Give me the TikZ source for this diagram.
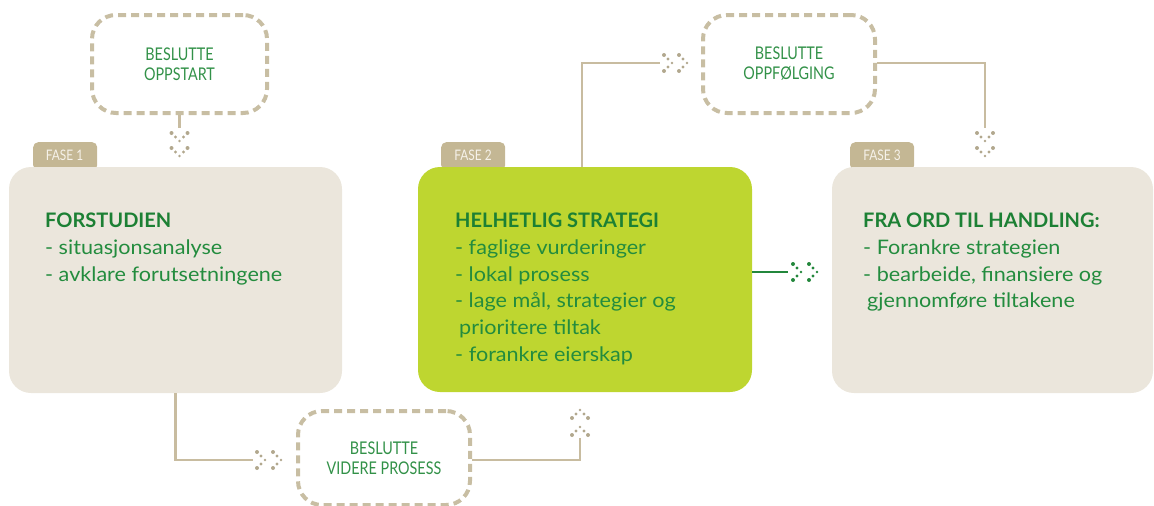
\documentclass[tikz,border=0pt]{standalone}
\usepackage{fontspec}
\setmainfont{Lato}
\newfontfamily\narrowfont[FakeStretch=0.82]{Lato}
\newfontfamily\bodyfont[FakeStretch=1.08]{Lato}
\newfontfamily\titlefont{Lato}
\definecolor{beige}{RGB}{235,230,220}
\definecolor{tabtan}{RGB}{196,183,148}
\definecolor{dashtan}{RGB}{200,190,163}
\definecolor{conntan}{RGB}{200,188,160}
\definecolor{lime}{RGB}{190,214,48}
\definecolor{txtgreen}{RGB}{35,140,62}
\definecolor{titlegreen}{RGB}{28,128,52}
\definecolor{dbgreen}{RGB}{50,145,72}
\definecolor{tabtxt}{RGB}{246,242,234}
\definecolor{dottan}{RGB}{178,168,142}
\definecolor{dotgreen}{RGB}{35,135,60}
\tikzset{
  mainbox/.style={draw=none, rounded corners=22pt, inner sep=0pt},
  tabbox/.style={fill=tabtan, rounded corners=5pt, inner sep=0pt, minimum width=64pt, minimum height=28pt},
  tablabel/.style={text=tabtxt, inner sep=0pt, font=\narrowfont\fontsize{14.5}{16}\selectfont},
  dashbox/.style={draw=dashtan, line width=4pt, dash pattern=on 8pt off 5pt, rounded corners=24pt, inner sep=0pt, align=center, text=dbgreen, font=\narrowfont\fontsize{17.5}{20}\selectfont},
  bodytext/.style={anchor=north west, inner sep=0pt, align=left, text=txtgreen, font=\bodyfont\fontsize{20}{26.7}\selectfont},
  conn/.style={draw=conntan, line width=2.6pt},
  gconn/.style={draw=dotgreen, line width=2.8pt},
  chev/.pic={
    \fill (-4,-8) circle (2.0pt);
    \fill (0,-4) circle (1.7pt);
    \fill (4,0) circle (1.3pt);
    \fill (0,4) circle (1.7pt);
    \fill (-4,8) circle (2.0pt);
  }
}
\begin{document}
\begin{tikzpicture}[x=1pt,y=-1pt]
\useasboundingbox (0,0) rectangle (1154,506);
% tabs
\node[tabbox, anchor=north west] (t1) at (33,142) {};
\node[tabbox, anchor=north west] (t2) at (441,142) {};
\node[tabbox, anchor=north west] (t3) at (850,142) {};
\node[tablabel] (t1l) at (64.5,155) {FASE 1};
\node[tablabel] (t2l) at (473,155) {FASE 2};
\node[tablabel] (t3l) at (882,155) {FASE 3};
% main boxes
\node[mainbox, fill=beige, minimum width=333pt, minimum height=226pt] (f1) at (175.5,280) {};
\node[mainbox, fill=lime, minimum width=334pt, minimum height=225pt] (f2) at (585,279.5) {};
\node[mainbox, fill=beige, minimum width=321pt, minimum height=226pt] (f3) at (992.5,280) {};
% texts
\node[bodytext] (f1t) at (45,213) {{\titlefont\bfseries\color{titlegreen}FORSTUDIEN}\\- situasjonsanalyse\\- avklare forutsetningene};
\node[bodytext] (f2t) at (455,213) {{\titlefont\bfseries\color{titlegreen}HELHETLIG STRATEGI}\\- faglige vurderinger\\- lokal prosess\\- lage mål, strategier og\\\hspace*{4pt}prioritere tiltak\\- forankre eierskap};
\node[bodytext] (f3t) at (863,213) {{\titlefont\bfseries\color{titlegreen}FRA ORD TIL HANDLING:}\\- Forankre strategien\\- bearbeide, finansiere og\\\hspace*{4pt}gjennomføre tiltakene};
% dashed decision boxes
\node[dashbox, minimum width=175pt, minimum height=98pt] (o1) at (179.5,64) {BESLUTTE\\OPPSTART};
\node[dashbox, minimum width=172pt, minimum height=98pt] (o2) at (789,64) {BESLUTTE\\OPPFØLGING};
\node[dashbox, minimum width=172pt, minimum height=94pt] (o3) at (384,458) {BESLUTTE\\VIDERE PROSESS};
% connector end points
\coordinate (e1) at (179.5,128);
\coordinate (e2) at (660,63);
\coordinate (e3) at (985,128);
\coordinate (e4) at (253,460);
\coordinate (e5) at (580,438);
\coordinate (e6) at (788,272);
% connectors
\draw[conn] (o1.south) -- (e1);
\draw[conn] ([xshift=-3pt]f2.north) |- (e2);
\draw[conn] ([yshift=1pt]o2.east) -| (e3);
\draw[conn] (f1.south) |- (e4);
\draw[conn] ([yshift=-2pt]o3.east) -| (e5);
\draw[gconn] ([yshift=7.5pt]f2.east) -- (e6);
% dotted chevrons
\begin{scope}[fill=dottan]
\pic[rotate=-90] at (179.5,137) {chev};
\pic[rotate=-90] at (179.5,152) {chev};
\pic at (668,63) {chev};
\pic at (683,63) {chev};
\pic[rotate=-90] at (985,137) {chev};
\pic[rotate=-90] at (985,152) {chev};
\pic at (261,460) {chev};
\pic at (277,460) {chev};
\pic[rotate=90] at (580,431) {chev};
\pic[rotate=90] at (580,414) {chev};
\end{scope}
\begin{scope}[fill=dotgreen]
\pic at (797,272) {chev};
\pic at (813,272) {chev};
\end{scope}
\end{tikzpicture}
\end{document}
